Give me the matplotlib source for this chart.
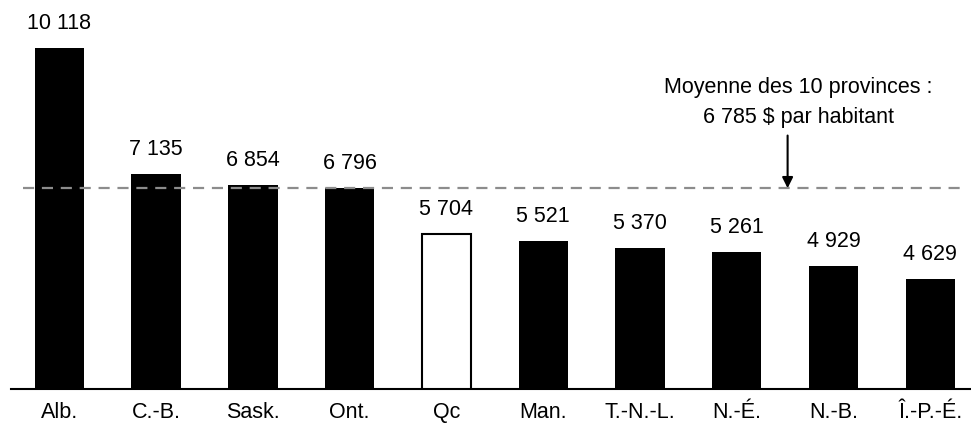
import numpy as np
import matplotlib.pyplot as plt

plt.rcParams['font.family'] = ['Liberation Sans', 'DejaVu Sans']

# depenses par habitant, 10 provinces
provinces = ['Alb.', 'C.-B.', 'Sask.', 'Ont.', 'Qc', 'Man.', 'T.-N.-L.', 'N.-É.', 'N.-B.', 'Î.-P.-É.']
valeurs = [10118, 7135, 6854, 6796, 5704, 5521, 5370, 5261, 4929, 4629]
moyenne = 6785

def fmt(v):
    return '{:,}'.format(v).replace(',', ' ')

fig = plt.figure(figsize=(9.71, 4.29), dpi=100)
ax = fig.add_axes([0.0113, 0.0932, 0.9887, 0.9068])

x = np.arange(len(provinces))
couleurs = ['white' if p == 'Qc' else 'black' for p in provinces]
bars = ax.bar(x, valeurs, width=0.51, color=couleurs, edgecolor='black',
              linewidth=[1.5 if p == 'Qc' else 0 for p in provinces], zorder=2)

for xi, v in zip(x, valeurs):
    ax.annotate(fmt(v), xy=(xi, v), xytext=(0, 19), textcoords='offset pixels',
                ha='center', va='baseline', fontsize=15.5)

# ligne de la moyenne
ax.axhline(moyenne, xmin=0.013, xmax=0.991, color='#8c8c8c', lw=1.6,
           dashes=(5, 3.5), zorder=3)
ax.annotate('', xy=(7.525, moyenne), xytext=(7.525, 8040),
            arrowprops=dict(arrowstyle='-|>', color='black', lw=1.5, mutation_scale=16,
                            shrinkA=0, shrinkB=0))
ax.text(7.64, 8230, 'Moyenne des 10 provinces :\n' + fmt(moyenne) + ' $ par habitant',
        ha='center', va='bottom', fontsize=15.5, linespacing=1.55)

ax.set_xlim(-0.5, 9.42)
ax.set_ylim(2000, 11270)
ax.set_xticks(x)
ax.set_xticklabels(provinces, fontsize=15.5)
ax.tick_params(axis='x', length=0, pad=9)
ax.set_yticks([])
for s in ['top', 'right', 'left']:
    ax.spines[s].set_visible(False)
ax.spines['bottom'].set_linewidth(1.5)

plt.savefig('out.png', dpi=100)
